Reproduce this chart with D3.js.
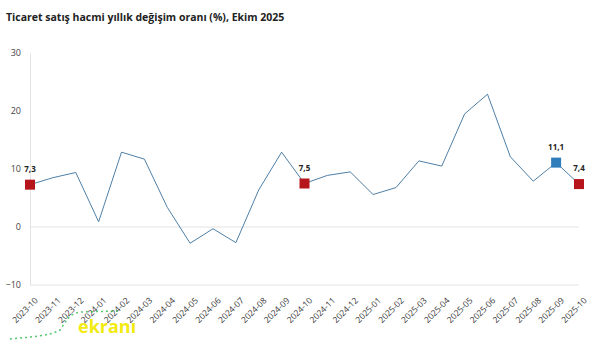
<!DOCTYPE html>
<html>
<head>
<meta charset="utf-8">
<script src="https://cdn.jsdelivr.net/npm/d3@7"></script>
<style>
  html, body { margin: 0; padding: 0; background: #fff; }
  svg { display: block; }
</style>
</head>
<body>
<svg id="chart" width="601" height="340"></svg>
<script>
// Monthly periods
const periods = [
  "2023-10","2023-11","2023-12","2024-01","2024-02","2024-03","2024-04",
  "2024-05","2024-06","2024-07","2024-08","2024-09","2024-10","2024-11",
  "2024-12","2025-01","2025-02","2025-03","2025-04","2025-05","2025-06",
  "2025-07","2025-08","2025-09","2025-10"
];
// Annual change in trade sales volume (%)
const values = [
  7.3, 8.5, 9.4, 0.9, 12.9, 11.7, 3.4,
  -2.8, -0.3, -2.7, 6.4, 12.9, 7.5, 8.9,
  9.5, 5.6, 6.8, 11.4, 10.5, 19.5, 22.9,
  12.1, 7.9, 11.1, 7.4
];
// Highlighted points with labels
const highlightPeriods = ["2023-10", "2024-10", "2025-09", "2025-10"];
const highlightKinds = ["october", "october", "previous", "october"];
const yTicks = [-10, 0, 10, 20, 30];
const titleText = "Ticaret satış hacmi yıllık değişim oranı (%), Ekim 2025";

const svg = d3.select("#chart");
const margin = { left: 30, right: 22, top: 53, bottom: 55 };
const W = 601, H = 340;

const x = d3.scalePoint().domain(periods).range([margin.left, W - margin.right]);
const y = d3.scaleLinear().domain([-10, 30]).range([H - margin.bottom, margin.top]);

// Title
svg.append("text")
  .attr("x", 6).attr("y", 21)
  .attr("font-family", "'Open Sans', sans-serif")
  .attr("font-size", 10.5).attr("font-weight", "bold")
  .attr("fill", "#222")
  .text(titleText);

// Zero line and bottom baseline
svg.append("line")
  .attr("x1", margin.left).attr("x2", W - margin.right)
  .attr("y1", y(0)).attr("y2", y(0))
  .attr("stroke", "#e3e3e3").attr("stroke-width", 1);
svg.append("line")
  .attr("x1", margin.left).attr("x2", W - margin.right)
  .attr("y1", y(-10)).attr("y2", y(-10))
  .attr("stroke", "#e3e3e3").attr("stroke-width", 1);

// Y axis
const yAxis = svg.append("g")
  .attr("transform", `translate(${margin.left},0)`)
  .call(d3.axisLeft(y).tickValues(yTicks).tickSize(0).tickPadding(9));
yAxis.select(".domain").attr("stroke", "#e3e3e3");
yAxis.selectAll("text")
  .attr("font-family", "'Open Sans', sans-serif")
  .attr("font-size", 9).attr("fill", "#444");

// X axis labels
const xAxis = svg.append("g")
  .attr("transform", `translate(0,${y(-10)})`)
  .call(d3.axisBottom(x).tickSize(0).tickPadding(0));
xAxis.select(".domain").remove();
xAxis.selectAll("text")
  .attr("font-family", "'Open Sans', sans-serif")
  .attr("font-size", 8.5).attr("fill", "#333")
  .attr("text-anchor", "end")
  .attr("dy", 0)
  .attr("transform", "translate(8,16) rotate(-45)");

// Series line
const line = d3.line()
  .x((d, i) => x(periods[i]))
  .y(d => y(d));
svg.append("path")
  .datum(values)
  .attr("fill", "none")
  .attr("stroke", "#4f7fa6")
  .attr("stroke-width", 1)
  .attr("d", line);

// Highlight markers and labels
const colorFor = { october: "#b5151b", previous: "#2f7dbb" };
const size = 10;
highlightPeriods.forEach((p, k) => {
  const i = periods.indexOf(p);
  const v = values[i];
  const cx = x(p), cy = y(v);
  svg.append("rect")
    .attr("x", cx - size / 2).attr("y", cy - size / 2)
    .attr("width", size).attr("height", size)
    .attr("fill", colorFor[highlightKinds[k]]);
  svg.append("text")
    .attr("x", cx).attr("y", cy - 13)
    .attr("text-anchor", "middle")
    .attr("font-family", "'Open Sans', sans-serif")
    .attr("font-size", 8).attr("font-weight", "bold")
    .attr("fill", "#222")
    .text(d3.format(".1f")(v).replace(".", ","));
});

// Site watermark
const wm = svg.append("g");
wm.append("path")
  .attr("d", "M10,339 C30,337 50,336 60,330 C66,322 68,314 80,312 L118,311")
  .attr("fill", "none").attr("stroke", "#2dbb4a").attr("stroke-width", 1.5)
  .attr("stroke-dasharray", "2,3").attr("opacity", 0.8);
wm.append("text")
  .attr("x", 78).attr("y", 333)
  .attr("font-family", "'Open Sans', sans-serif")
  .attr("font-size", 18).attr("font-weight", "bold")
  .attr("fill", "#f2ea10")
  .text("ekranı");
</script>
</body>
</html>
